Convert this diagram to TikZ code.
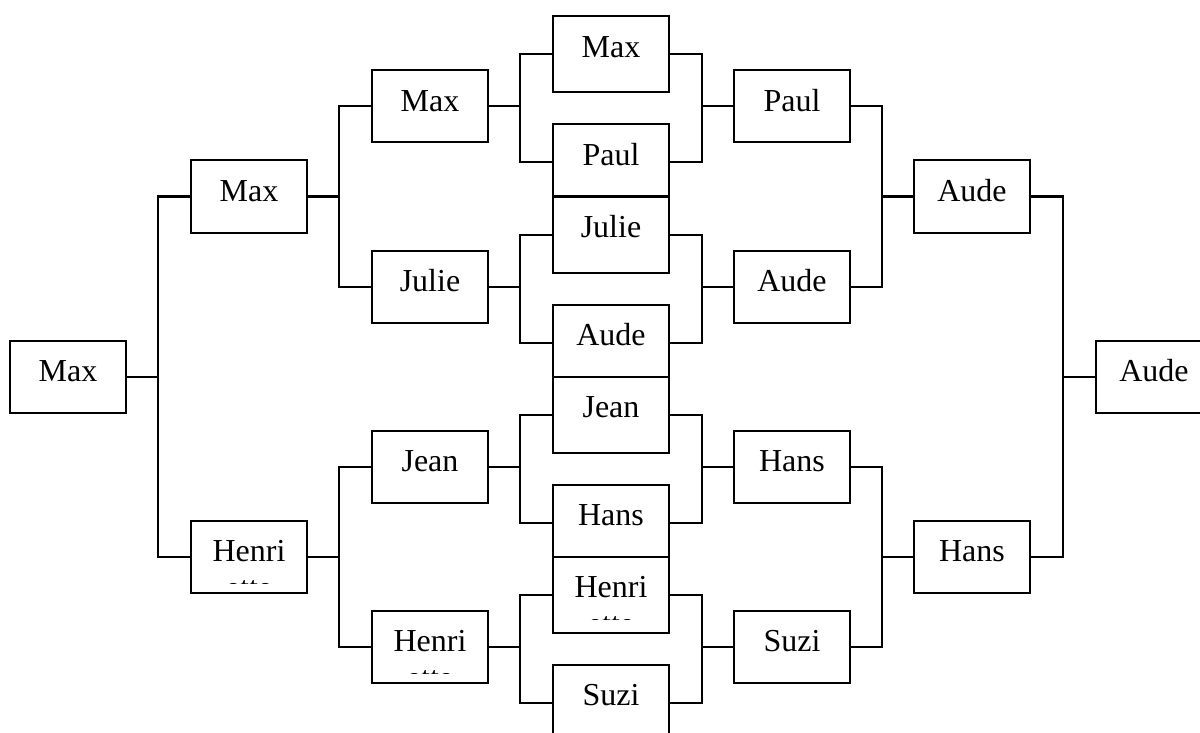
\documentclass[tikz,border=0pt]{standalone}
\usepackage{fontspec}
\setmainfont{Liberation Serif}
\newcommand\henrinode[4]{%
  \node[#4] (#1) at (#2,#3) {};
  \begin{scope}
    \clip (#2,#3) rectangle ++(116,63);
    \node[lbl] (#1a) at ({#2+58},{#3+41}) {Henri};
    \node[lbl] (#1b) at ({#2+58},{#3+78}) {ette};
  \end{scope}}
\begin{document}
\begin{tikzpicture}[x=1pt,y=-1pt,line width=2pt,
  bx/.style={draw,fill=white,rectangle,inner sep=0pt,outer sep=0pt,minimum width=116pt,
    text height=41pt,text depth=31pt,font=\fontsize{32}{37}\selectfont,anchor=north west},
  bxt/.style={bx,text depth=35pt},
  lbl/.style={inner sep=0pt,anchor=base,font=\fontsize{32}{37}\selectfont},
  wire/.style={draw,line width=2pt}]
\useasboundingbox (0,0) rectangle (1200,733);
% level 0
\node[bx] (m0) at (10,340.5) {Max};
% level 1
\node[bx] (m1) at (191,160.5) {Max};
\henrinode{h1}{191}{520.5}{bx}
% level 2
\node[bx] (m2) at (372,70.5) {Max};
\node[bx] (j2) at (372,250.5) {Julie};
\node[bx] (je2) at (372,430.5) {Jean};
\henrinode{h2}{372}{610.5}{bx}
% level 3
\node[bxt] (m3) at (553,16.5) {Max};
\node[bxt] (p3) at (553,124.5) {Paul};
\node[bxt] (j3) at (553,196.5) {Julie};
\node[bxt] (a3) at (553,304.5) {Aude};
\node[bxt] (je3) at (553,376.5) {Jean};
\node[bxt] (ha3) at (553,484.5) {Hans};
\henrinode{h3}{553}{556.5}{bxt}
\node[bxt] (s3) at (553,664.5) {Suzi};
% level 4
\node[bx] (p4) at (734,70.5) {Paul};
\node[bx] (a4) at (734,250.5) {Aude};
\node[bx] (ha4) at (734,430.5) {Hans};
\node[bx] (s4) at (734,610.5) {Suzi};
% level 5
\node[bx] (a5) at (914,160.5) {Aude};
\node[bx] (ha5) at (914,520.5) {Hans};
% level 6
\node[bx] (a6) at (1096,340.5) {Aude};
% left connectors
\draw[wire] (m0.east) -- ++(32,0);
\draw[wire] (m1.west) -- ++(-33,0) |- (h1.west);
\draw[wire] (m1.east) -- ++(32,0);
\draw[wire] (m2.west) -- ++(-33,0) |- (j2.west);
\draw[wire] (h1.east) -- ++(32,0);
\draw[wire] (je2.west) -- ++(-33,0) |- (h2.west);
\draw[wire] (m2.east) -- ++(32,0);
\draw[wire] (m3.west) -- ++(-33,0) |- (p3.west);
\draw[wire] (j2.east) -- ++(32,0);
\draw[wire] (j3.west) -- ++(-33,0) |- (a3.west);
\draw[wire] (je2.east) -- ++(32,0);
\draw[wire] (je3.west) -- ++(-33,0) |- (ha3.west);
\draw[wire] (h2.east) -- ++(32,0);
\draw[wire] (h3.west) -- ++(-33,0) |- (s3.west);
% right connectors
\draw[wire] (m3.east) -- ++(33,0) |- (p3.east);
\draw[wire] (p4.west) -- ++(-33,0);
\draw[wire] (j3.east) -- ++(33,0) |- (a3.east);
\draw[wire] (a4.west) -- ++(-33,0);
\draw[wire] (je3.east) -- ++(33,0) |- (ha3.east);
\draw[wire] (ha4.west) -- ++(-33,0);
\draw[wire] (h3.east) -- ++(33,0) |- (s3.east);
\draw[wire] (s4.west) -- ++(-33,0);
\draw[wire] (p4.east) -- ++(32,0) |- (a4.east);
\draw[wire] (a5.west) -- ++(-32,0);
\draw[wire] (ha4.east) -- ++(32,0) |- (s4.east);
\draw[wire] (ha5.west) -- ++(-32,0);
\draw[wire] (a5.east) -- ++(33,0) |- (ha5.east);
\draw[wire] (a6.west) -- ++(-33,0);
\end{tikzpicture}
\end{document}
